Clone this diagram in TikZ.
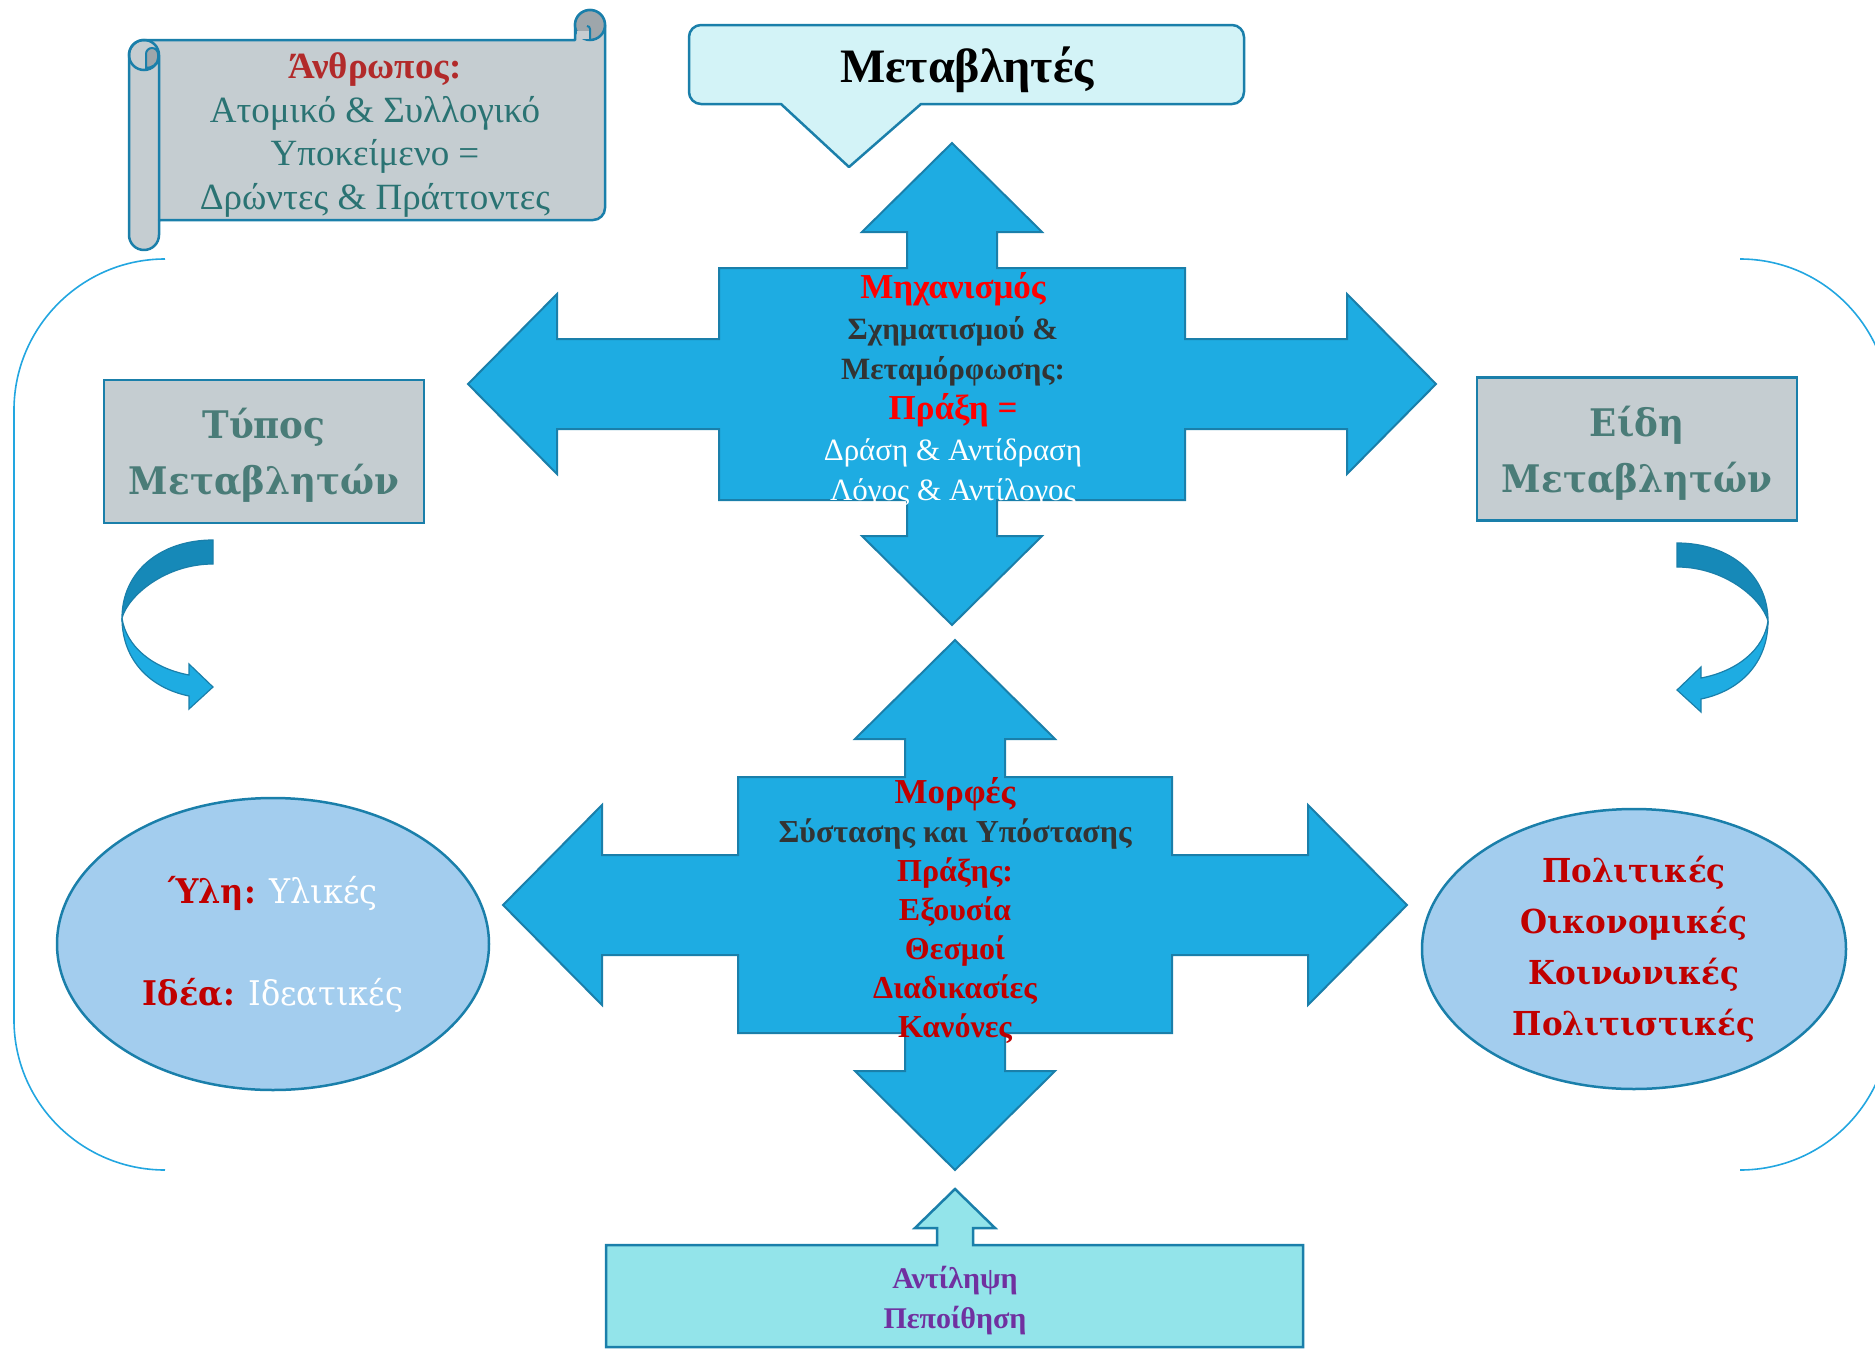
\documentclass[tikz,border=0pt]{standalone}
\usepackage{fontspec}
\setmainfont{Liberation Serif}
\newfontfamily\widefont[FakeStretch=0.94]{DejaVu Serif}
\usetikzlibrary{shapes.geometric}
\definecolor{crossblue}{HTML}{1EACE2}
\definecolor{edgeblue}{HTML}{1A7FAA}
\definecolor{paleblue}{HTML}{A3CDEE}
\definecolor{boxgray}{HTML}{C5CDD1}
\definecolor{scrollshade}{HTML}{9EA6AB}
\definecolor{calloutfill}{HTML}{D3F3F7}
\definecolor{lowfill}{HTML}{93E4EA}
\definecolor{tealtext}{HTML}{2A7373}
\definecolor{graytext}{HTML}{4A7C78}
\definecolor{darkred}{HTML}{C00000}
\definecolor{brightred}{HTML}{FF0000}
\definecolor{brickred}{HTML}{B22A2A}
\definecolor{purpletext}{HTML}{7030A0}
\definecolor{darktext}{HTML}{333333}
\definecolor{darkturn}{HTML}{1689B8}
\definecolor{bracketblue}{HTML}{22A6E0}
\newcommand{\fourway}[7]{%
  \draw[crossarrow] (0,-#7) -- (#4,{-#7+#5}) -- (#3,{-#7+#5}) -- (#3,-#2) -- (#1,-#2)
    -- (#1,-#3) -- ({#6-#5},-#3) -- ({#6-#5},-#4) -- (#6,0) -- ({#6-#5},#4) -- ({#6-#5},#3)
    -- (#1,#3) -- (#1,#2) -- (#3,#2) -- (#3,{#7-#5}) -- (#4,{#7-#5}) -- (0,#7)
    -- (-#4,{#7-#5}) -- (-#3,{#7-#5}) -- (-#3,#2) -- (-#1,#2) -- (-#1,#3) -- ({-#6+#5},#3)
    -- ({-#6+#5},#4) -- (-#6,0) -- ({-#6+#5},-#4) -- ({-#6+#5},-#3) -- (-#1,-#3)
    -- (-#1,-#2) -- (-#3,-#2) -- (-#3,{-#7+#5}) -- (-#4,{-#7+#5}) -- cycle;
}
\newcommand{\turnarrow}{%
  \filldraw[turnback] (213,540) .. controls (160,540) and (122,572) .. (122,618)
    .. controls (128,596) and (165,564) .. (213,564) -- cycle;
  \filldraw[turnfront] (122,618) .. controls (122,660) and (150,688) .. (189,696)
    -- (189,709) -- (213,687) -- (189,664) -- (189,675)
    .. controls (152,668) and (126,646) .. (122,618) -- cycle;
}
\newcommand{\redword}[1]{{\fontsize{35}{40}\selectfont\color{brightred}#1}}
\newcommand{\whiteword}[1]{{\mdseries\color{white}#1}}

\begin{document}
\begin{tikzpicture}[x=1pt,y=-1pt,
    crossarrow/.style={fill=crossblue,draw=edgeblue,line width=2pt},
    titlebox/.style={draw=edgeblue,line width=2.5pt,fill=boxgray,minimum width=320pt,
      minimum height=143pt,align=center,text=graytext,text depth=0pt,
      font=\widefont\bfseries\fontsize{38}{56}\selectfont},
    oval/.style={ellipse,draw=edgeblue,line width=2.5pt,fill=paleblue,inner sep=0pt,align=center},
    turnback/.style={fill=darkturn,draw=edgeblue,line width=1.2pt},
    turnfront/.style={fill=crossblue,draw=edgeblue,line width=1.2pt},
    bracket/.style={draw=bracketblue,line width=1.6pt},
    scrollbody/.style={fill=boxgray,draw=edgeblue,line width=2.5pt,line join=round},
    scrollcurl/.style={fill=scrollshade,draw=edgeblue,line width=2pt}
  ]
  \useasboundingbox (0,0) rectangle (1875,1352);

  \draw[bracket] (165,259) .. controls (82,259) and (14,327) .. (14,410) -- (14,1020)
    .. controls (14,1103) and (82,1170) .. (165,1170);
  \draw[bracket] (1740,259) .. controls (1823,259) and (1890,327) .. (1890,410) -- (1890,1020)
    .. controls (1890,1103) and (1823,1170) .. (1740,1170);

  \draw[scrollbody] (144,40) -- (575,40) -- (575,25) arc (180:360:15) -- (605,208)
    arc (0:90:12) -- (159,220) -- (159,235) arc (0:180:15) -- (129,55) arc (180:270:15) -- cycle;
  \draw[edgeblue,line width=2.5pt] (144,55) circle (15) (159,55) -- (159,220);
  \filldraw[scrollcurl] (146,68) -- (146,54) arc (180:360:6) -- (158,58)
    .. controls (158,64) and (152,68) .. (146,68) -- cycle;
  \filldraw[scrollcurl,line width=2.5pt] (590,25) circle (15);
  \fill[boxgray] (577,31) rectangle (590,38.8);
  \draw[edgeblue,line width=2pt] (590,39) -- (590,29) arc (0:-90:3);

  \draw[fill=calloutfill,draw=edgeblue,line width=2.5pt,line join=round] (1000,104)
    [rounded corners=12] -- (1244,104) -- (1244,25) -- (689,25) -- (689,104)
    [sharp corners] -- (740,104) -- (781,104) -- (849,167) -- (921,104) -- cycle;

  \begin{scope}[shift={(952,384)}]
    \fourway{233}{116}{45}{90}{89}{484}{241}
  \end{scope}
  \begin{scope}[shift={(955,905)}]
    \fourway{217}{128}{50}{100}{99}{452}{265}
  \end{scope}

  \draw[fill=lowfill,draw=edgeblue,line width=2.5pt] (606,1245) -- (937,1245) -- (937,1228)
    -- (915,1228) -- (955,1189) -- (995,1228) -- (973,1228) -- (973,1245) -- (1303,1245)
    -- (1303,1347) -- (606,1347) -- cycle;

  \turnarrow
  \begin{scope}[shift={(1890,3)},xscale=-1]
    \turnarrow
  \end{scope}

  \node[titlebox] (typebox) at (264,451.5) {Τύπος\\Μεταβλητών};
  \node[titlebox] (kindbox) at (1637,449) {Είδη\\Μεταβλητών};

  \node[oval,minimum width=432pt,minimum height=292pt,text=white,
    font=\widefont\fontsize{34}{51}\selectfont] (matter) at (273,944)
    {{\bfseries\color{darkred}Ύλη:} Υλικές\\[51pt]{\bfseries\color{darkred}Ιδέα:} Ιδεατικές};
  \node[oval,minimum width=424pt,minimum height=280pt,text=darkred,
    font=\widefont\bfseries\fontsize{33}{51}\selectfont] (kinds) at (1634,949)
    {Πολιτικές\\Οικονομικές\\Κοινωνικές\\Πολιτιστικές};

  \node[align=center,text=tealtext,font=\fontsize{37}{44}\selectfont] (human) at (375,135)
    {{\bfseries\color{brickred}Άνθρωπος:}\\Ατομικό \& Συλλογικό\\Υποκείμενο =\\Δρώντες \& Πράττοντες};
  \node[font=\bfseries\fontsize{48}{58}\selectfont] (vars) at (967,70) {Μεταβλητές};

  \node[align=center,text=darktext,font=\bfseries\fontsize{31}{40.4}\selectfont] (mechanism) at (953,390)
    {\redword{Μηχανισμός}\\Σχηματισμού \&\\Μεταμόρφωσης:\\\redword{Πράξη =}\\
     \whiteword{Δράση \& Αντίδραση}\\\whiteword{Λόγος \& Αντίλογος}};
  \node[align=center,text=darkred,font=\bfseries\fontsize{32}{39}\selectfont] (forms) at (955,911)
    {{\fontsize{35}{39}\selectfont Μορφές}\\{\color{darktext}Σύστασης και Υπόστασης}\\Πράξης:\\
     Εξουσία\\Θεσμοί\\Διαδικασίες\\Κανόνες};

  \node[align=center,text=purpletext,font=\bfseries\fontsize{30}{40}\selectfont] (belief) at (955,1301)
    {Αντίληψη\\Πεποίθηση};
\end{tikzpicture}
\end{document}
